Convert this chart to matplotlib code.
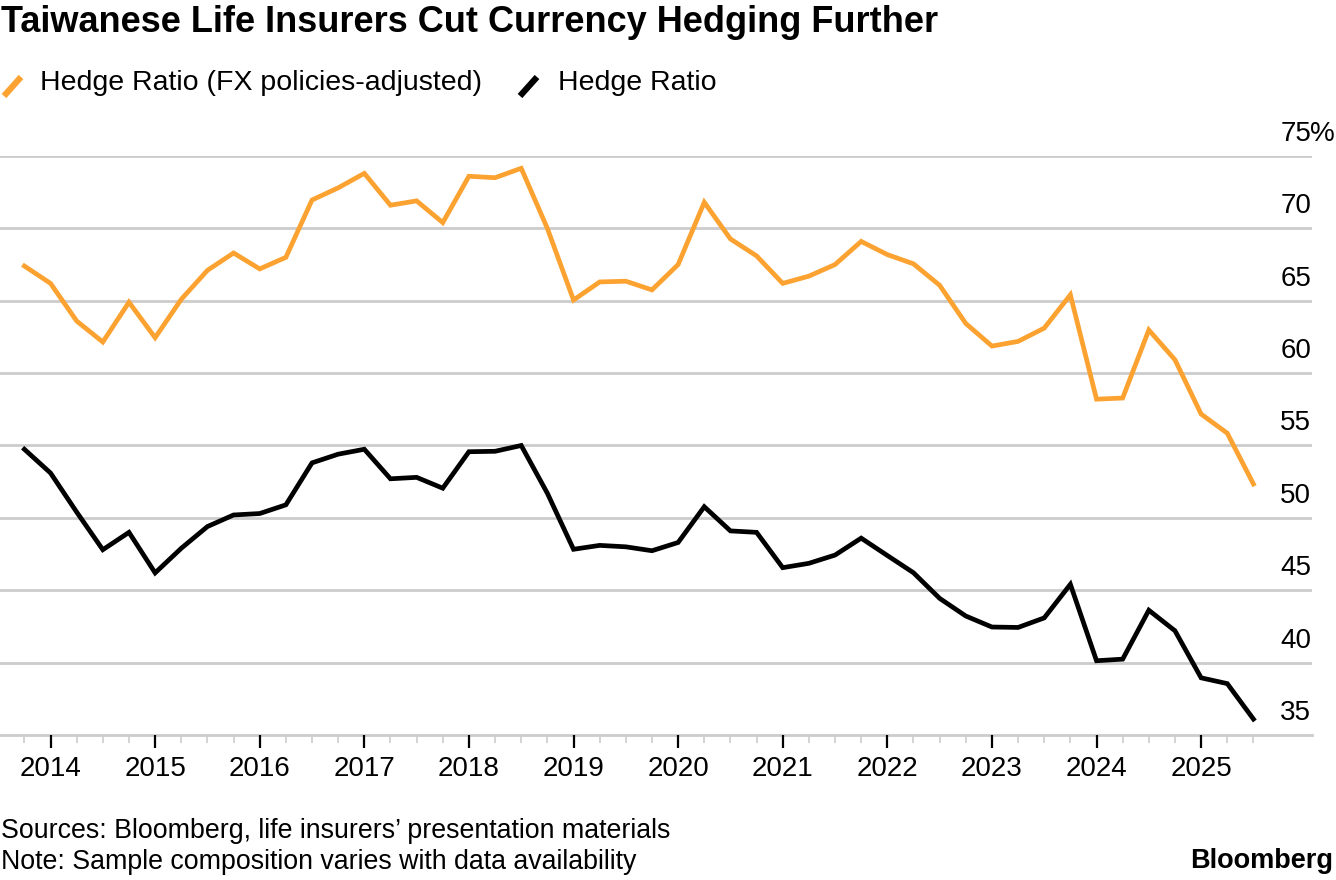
import numpy as np
import matplotlib.pyplot as plt
from matplotlib.lines import Line2D
from matplotlib.ticker import FixedLocator

# ----------------------------
# Data (quarterly, Q4 2013 .. Q3 2025)
# ----------------------------
start_year = 2013.75
hedge_adj = [
    67.4, 66.2, 63.6, 62.15, 64.9, 62.45, 65.1, 67.1, 68.3, 67.2,
    68.0, 71.96, 72.8, 73.8, 71.6, 71.9, 70.4, 73.6, 73.5, 74.15,
    70.0, 65.05, 66.3, 66.35, 65.75, 67.5, 71.8, 69.27, 68.1, 66.2,
    66.7, 67.5, 69.1, 68.19, 67.55, 66.07, 63.43, 61.87, 62.19, 63.11,
    65.41, 58.2, 58.28, 62.98, 60.92, 57.17, 55.85, 52.34,
]
hedge = [
    54.74, 53.1, 50.4, 47.8, 49.0, 46.2, 47.9, 49.4, 50.2, 50.3,
    50.9, 53.8, 54.4, 54.74, 52.7, 52.8, 52.05, 54.57, 54.6, 55.0,
    51.7, 47.83, 48.1, 48.0, 47.73, 48.3, 50.77, 49.1, 49.0, 46.56,
    46.86, 47.43, 48.6, 47.4, 46.21, 44.44, 43.22, 42.46, 42.43, 43.09,
    45.41, 40.13, 40.24, 43.62, 42.2, 38.95, 38.55, 36.1,
]
dates = start_year + 0.25 * np.arange(len(hedge))

year_ticks = list(range(2014, 2026))
y_ticks = [35, 40, 45, 50, 55, 60, 65, 70, 75]
y_labels = ["35", "40", "45", "50", "55", "60", "65", "70", "75%"]

title = "Taiwanese Life Insurers Cut Currency Hedging Further"
label_adj = "Hedge Ratio (FX policies-adjusted)"
label_raw = "Hedge Ratio"

ORANGE = "#fba231"
GRID = "#cccccc"
FS = 20

plt.rcParams["font.family"] = ["Liberation Sans", "DejaVu Sans"]

W, H = 1336, 880
fig = plt.figure(figsize=(W / 100, H / 100), dpi=100)

# axes box in pixels: x 0..1312, y 156..735
ax = fig.add_axes([0, 1 - 735 / H, 1312 / W, (735 - 156) / H])
ax.plot(dates, hedge_adj, color=ORANGE, lw=3.4, solid_joinstyle="miter")
ax.plot(dates, hedge, color="black", lw=3.4, solid_joinstyle="miter")

ax.set_xlim(2013.517, 2026.06)
ax.set_ylim(35, 75)

for s in ["top", "left", "right"]:
    ax.spines[s].set_visible(False)
ax.spines["bottom"].set_color(GRID)
ax.spines["bottom"].set_linewidth(2)
ax.spines["bottom"].set_zorder(0)

for v in y_ticks[1:]:
    ax.axhline(v, color=GRID, lw=2, zorder=0)

# y labels sit above gridlines, right-aligned
ax.set_yticks([])
for v, lab in zip(y_ticks, y_labels):
    ax.annotate(lab[:2], xy=(1.0, v), xycoords=("axes fraction", "data"),
                xytext=(-1, 9), textcoords="offset pixels",
                ha="right", va="bottom", fontsize=FS, annotation_clip=False)
    if lab.endswith("%"):
        ax.annotate("%", xy=(1.0, v), xycoords=("axes fraction", "data"),
                    xytext=(-2, 9), textcoords="offset pixels",
                    ha="left", va="bottom", fontsize=FS, annotation_clip=False)

# x ticks: years major, quarters minor
ax.xaxis.set_major_locator(FixedLocator(year_ticks))
ax.xaxis.set_minor_locator(FixedLocator([d for d in dates if abs(d - round(d)) > 0.01]))
ax.set_xticklabels([str(y) for y in year_ticks])
ax.tick_params(axis="x", which="major", length=9, width=1.6, color="black",
               labelsize=FS, pad=6)
ax.tick_params(axis="x", which="minor", length=6, width=1.2, color=GRID)

# title
fig.text(1 / W, 1 - 22 / H, title, fontsize=26, fontweight="bold", va="center", ha="left")

# legend drawn by hand
fig.add_artist(Line2D([4 / W, 21 / W], [1 - 96 / H, 1 - 77 / H], color=ORANGE, lw=4.5,
                      solid_capstyle="butt"))
fig.text(40 / W, 1 - 83 / H, label_adj, fontsize=FS + 0.5, va="center", ha="left")
fig.add_artist(Line2D([520 / W, 537 / W], [1 - 96 / H, 1 - 77 / H], color="black", lw=4.5,
                      solid_capstyle="butt"))
fig.text(558 / W, 1 - 83 / H, label_raw, fontsize=FS + 0.5, va="center", ha="left")

# footer
fig.text(1 / W, 1 - 831 / H, "Sources: Bloomberg, life insurers\u2019 presentation materials",
         fontsize=19.3, va="center", ha="left")
fig.text(1 / W, 1 - 862 / H, "Note: Sample composition varies with data availability",
         fontsize=19.3, va="center", ha="left")
fig.text(1333 / W, 1 - 861 / H, "Bloomberg", fontsize=19.5, fontweight="bold",
         va="center", ha="right")

fig.savefig("out.png", dpi=100)
